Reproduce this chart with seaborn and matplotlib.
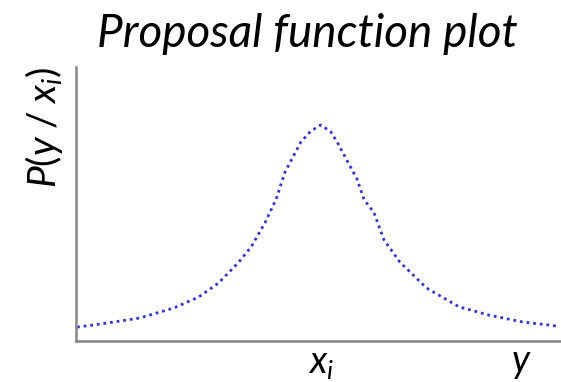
import matplotlib
matplotlib.use("Agg")
import matplotlib.pyplot as plt
import seaborn as sns
import pandas as pd

# Data (x relative to peak, y relative to axis height)
x_vals = [-2.44, -2.21, -1.81, -1.46, -1.21, -1.01, -0.81, -0.68, -0.54, -0.43,
          -0.34, -0.18, -0.08, 0.02, 0.12, 0.19, 0.39, 0.46, 0.56, 0.66,
          0.82, 1.09, 1.42, 1.72, 2.06, 2.32, 2.40]
y_vals = [0.051, 0.062, 0.084, 0.121, 0.161, 0.212, 0.286, 0.344, 0.432, 0.516,
          0.615, 0.725, 0.765, 0.788, 0.765, 0.725, 0.590, 0.516, 0.469, 0.370,
          0.289, 0.194, 0.125, 0.095, 0.070, 0.059, 0.055]
tick_positions = [0.03, 2.05]
tick_labels = ["$x_i$", "$y$"]
title_text = "Proposal function plot"
ylabel_text = "$P(y\\;/\\;x_i)$"

sns.set_theme(style="white")
plt.rcParams["font.family"] = ["Lato", "DejaVu Sans"]
plt.rcParams["mathtext.fontset"] = "custom"
plt.rcParams["mathtext.it"] = "Lato:italic"
plt.rcParams["mathtext.rm"] = "Lato"
plt.rcParams["text.color"] = "black"
plt.rcParams["xtick.color"] = "black"

df = pd.DataFrame({"x": x_vals, "y": y_vals})

fig = plt.figure(figsize=(5.61, 3.82), dpi=100)
ax = fig.add_axes([0.1355, 0.107, 0.8645, 0.718])
sns.lineplot(data=df, x="x", y="y", ax=ax, color="#3535c8",
             linewidth=2.0, linestyle=(0, (1, 1.4)))

ax.set_xlim(-2.45, 2.45)
ax.set_ylim(0, 1)
ax.set_xticks(tick_positions)
ax.set_xticklabels(tick_labels, fontsize=27, color="black")
ax.set_yticks([])
ax.tick_params(axis="x", length=0, pad=3)
ax.set_xlabel("")
ax.set_ylabel("")
for side in ["top", "right"]:
    ax.spines[side].set_visible(False)
for side in ["left", "bottom"]:
    ax.spines[side].set_color("#858585")
    ax.spines[side].set_linewidth(1.8)

fig.text(0.078, 0.825, ylabel_text, fontsize=28, rotation=90,
         ha="center", va="top", color="black")
fig.text(0.548, 0.877, title_text, fontsize=33, fontstyle="italic",
         ha="center", va="baseline", color="black")

fig.savefig("out.png", dpi=100)
